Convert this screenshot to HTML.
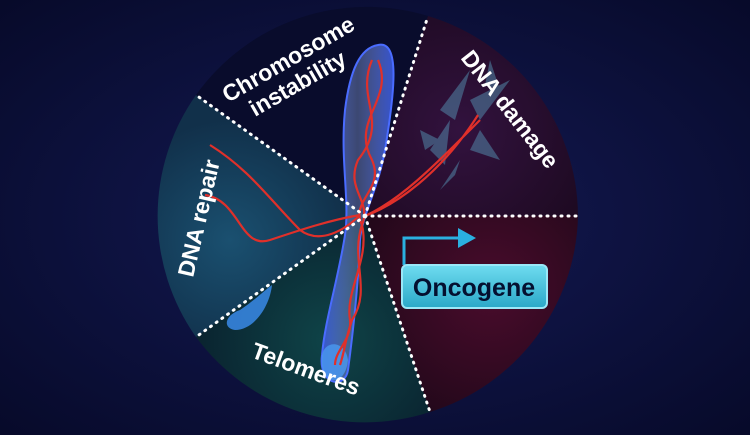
<!DOCTYPE html>
<html><head><meta charset="utf-8"><style>
html,body{margin:0;padding:0;width:750px;height:435px;overflow:hidden;background:#0a0d33}
svg{display:block}
text{font-family:"Liberation Sans",sans-serif;font-weight:bold;fill:#fff}
</style></head><body>
<svg width="750" height="435" viewBox="0 0 750 435" xmlns="http://www.w3.org/2000/svg">
<defs>
<radialGradient id="bg" cx="50%" cy="50%" r="70%"><stop offset="0" stop-color="#141a55"/><stop offset="1" stop-color="#070a2a"/></radialGradient>
<radialGradient id="rep" cx="230" cy="240" r="120" gradientUnits="userSpaceOnUse"><stop offset="0" stop-color="#1a5070"/><stop offset="1" stop-color="#11304a"/></radialGradient>
<radialGradient id="tel" cx="330" cy="340" r="130" gradientUnits="userSpaceOnUse"><stop offset="0" stop-color="#0f4448"/><stop offset="1" stop-color="#0a2430"/></radialGradient>
<radialGradient id="onc" cx="490" cy="290" r="140" gradientUnits="userSpaceOnUse"><stop offset="0" stop-color="#4a0c2c"/><stop offset="1" stop-color="#22081a"/></radialGradient>
<radialGradient id="dmg" cx="460" cy="130" r="140" gradientUnits="userSpaceOnUse"><stop offset="0" stop-color="#32123e"/><stop offset="1" stop-color="#1e0a22"/></radialGradient>
<linearGradient id="ob" x1="0" y1="0" x2="0" y2="1"><stop offset="0" stop-color="#6fdcf0"/><stop offset="1" stop-color="#2aa8c8"/></linearGradient>
<linearGradient id="chr" x1="0" y1="0" x2="1" y2="0"><stop offset="0" stop-color="#3a5ae0" stop-opacity=".9"/><stop offset=".5" stop-color="#7a90c8" stop-opacity=".45"/><stop offset="1" stop-color="#3a5ae0" stop-opacity=".9"/></linearGradient>
</defs>
<rect width="750" height="435" fill="url(#bg)"/>
<path d="M365,216 L196,95 A210,210 0 0 1 428,16 Z" fill="#090c2c"/>
<path d="M365,216 L428,16 A210,210 0 0 1 578,216 Z" fill="url(#dmg)"/>
<path d="M365,216 L578,216 A210,210 0 0 1 430,412 Z" fill="url(#onc)"/>
<path d="M365,216 L430,412 A210,210 0 0 1 196,337 Z" fill="url(#tel)"/>
<path d="M365,216 L196,337 A210,210 0 0 1 196,95 Z" fill="url(#rep)"/>
<g fill="#5aa0c0" opacity=".45">
<polygon points="440,110 470,70 455,120"/><polygon points="470,100 510,80 480,120"/><polygon points="430,150 450,120 445,165"/><polygon points="480,130 500,160 470,150"/><polygon points="460,160 440,190 455,175"/><polygon points="490,60 500,90 485,85"/><polygon points="420,130 440,140 425,150"/>
</g>
<path d="M378,45 C400,40 395,90 385,150 C378,190 362,215 360,240 C358,290 352,340 348,370 C345,390 318,385 322,355 C325,320 338,280 345,235 C350,200 340,160 345,110 C350,70 360,48 378,45 Z" fill="url(#chr)" stroke="#4a6cff" stroke-width="2"/>
<path d="M322,355 C325,340 345,340 348,360 C345,390 318,385 322,355Z" fill="#4a9af0" opacity=".8"/>
<path d="M240,310 C255,300 265,290 272,285 C270,305 255,330 235,330 C222,328 225,315 240,310Z" fill="#3a8ae8" opacity=".85"/>
<g fill="none" stroke="#e0302a" stroke-width="2.2">
<path d="M378,60 C395,100 350,120 372,160 C385,190 350,200 362,225 C370,260 345,290 350,320 C352,340 335,350 335,365"/>
<path d="M372,60 C355,100 390,120 358,160 C345,190 372,200 362,225 C350,260 372,290 352,320 C345,340 345,350 340,365"/>
<path d="M365,216 C400,200 430,170 480,120 M365,216 C395,205 440,175 478,115"/>
<path d="M210,145 C250,170 270,200 300,230 C320,245 345,230 360,215"/>
<path d="M205,195 C240,200 240,250 270,240 C300,230 330,220 360,215"/>
</g>
<g stroke="#fff" stroke-width="3" stroke-dasharray="1 6" stroke-linecap="round">
<line x1="365" y1="216" x2="196" y2="95"/><line x1="365" y1="216" x2="428" y2="16"/>
<line x1="365" y1="216" x2="578" y2="216"/><line x1="365" y1="216" x2="430" y2="412"/>
<line x1="365" y1="216" x2="196" y2="337"/>
</g>
<path d="M404,265 V238 H462" fill="none" stroke="#2ab0e0" stroke-width="3"/>
<polygon points="458,228 476,238 458,248" fill="#2ab0e0"/>
<rect x="402" y="265" width="145" height="43" rx="5" fill="url(#ob)" stroke="#9ae8f8" stroke-width="2"/>
<text x="474" y="296" text-anchor="middle" font-size="25" style="fill:#041030">Oncogene</text>
<text transform="translate(228,103) rotate(-30)" font-size="23">Chromosome</text>
<text transform="translate(255,117) rotate(-30)" font-size="23">instability</text>
<text transform="translate(460,58) rotate(52)" font-size="23">DNA damage</text>
<text transform="translate(193,278) rotate(-77)" font-size="23">DNA repair</text>
<text transform="translate(250,357) rotate(20)" font-size="23">Telomeres</text>
</svg>
</body></html>
